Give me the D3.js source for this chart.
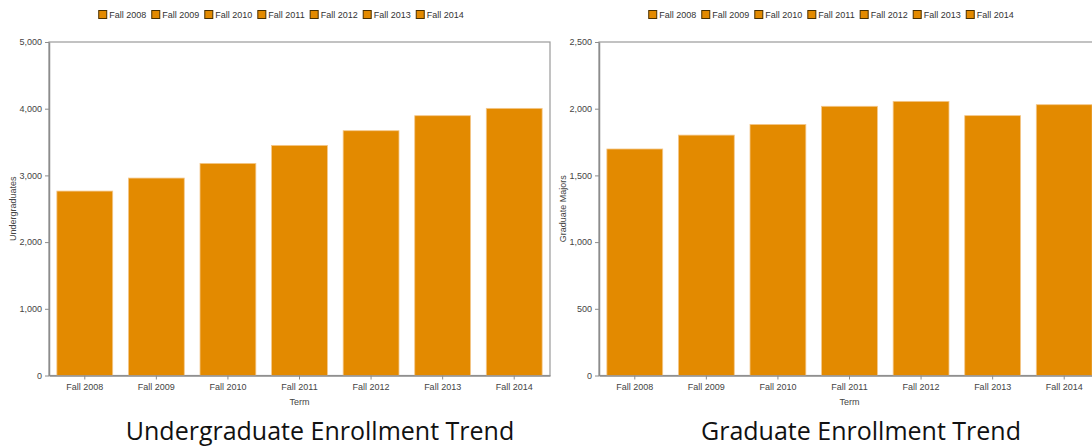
<!DOCTYPE html>
<html>
<head>
<meta charset="utf-8">
<script src="https://cdn.jsdelivr.net/npm/d3@7"></script>
<style>
  body { margin: 0; background: #fff; }
  svg { display: block; }
  .axis text { font-family: 'Liberation Sans', Arial, sans-serif; font-size: 9px; fill: #444; }
  .axis path, .axis line { stroke: #8c8c8c; }
</style>
</head>
<body>
<div id="chart"></div>
<script>
const terms = ['Fall 2008', 'Fall 2009', 'Fall 2010', 'Fall 2011', 'Fall 2012', 'Fall 2013', 'Fall 2014'];
const undergrads = [2765, 2960, 3180, 3450, 3670, 3895, 4005];
const gradMajors = [1698, 1802, 1882, 2018, 2055, 1948, 2030];
const undergradTicks = [0, 1000, 2000, 3000, 4000, 5000];
const gradTicks = [0, 500, 1000, 1500, 2000, 2500];

const svgWidth = 1092,
      svgHeight = 446;

const barColor = '#e38a00';

const svg = d3.select('#chart')
              .append('svg')
              .attr('width', svgWidth)
              .attr('height', svgHeight);

function drawPanel(left, values, ticks, yLabel, title, titleX) {
  const top = 42,
        width = 501,
        height = 333.5;

  const g = svg.append('g')
               .attr('transform', `translate(${left},${top})`);

  const x = d3.scaleBand()
              .domain(terms)
              .range([0, width])
              .paddingInner(0.22)
              .paddingOuter(0.11);

  const y = d3.scaleLinear()
              .domain([0, d3.max(ticks)])
              .range([height, 0]);

  // frame
  g.append('rect')
   .attr('width', width)
   .attr('height', height)
   .attr('fill', 'none')
   .attr('stroke', '#9a9a9a')
   .attr('stroke-width', 1.2);

  // bars
  g.append('g')
   .selectAll('rect')
   .data(values)
   .enter()
   .append('rect')
   .attr('x', (d, i) => x(terms[i]))
   .attr('y', d => y(d))
   .attr('width', x.bandwidth())
   .attr('height', d => height - y(d))
   .attr('fill', barColor)
   .attr('stroke', '#f4c78a')
   .attr('stroke-width', 0.8);

  const yAxis = d3.axisLeft(y)
                  .tickValues(ticks)
                  .tickFormat(d3.format(','))
                  .tickSize(4)
                  .tickSizeOuter(0);
  g.append('g')
   .attr('class', 'axis')
   .call(yAxis)
   .call(a => a.select('.domain').attr('stroke-width', 1.5));

  const xAxis = d3.axisBottom(x)
                  .tickSize(4)
                  .tickSizeOuter(0)
                  .tickPadding(4);
  g.append('g')
   .attr('class', 'axis')
   .attr('transform', `translate(0,${height})`)
   .call(xAxis)
   .call(a => a.select('.domain').attr('stroke-width', 1.5));

  // axis titles
  g.append('text')
   .attr('x', width / 2)
   .attr('y', height + 29)
   .attr('text-anchor', 'middle')
   .attr('font-family', 'Liberation Sans, Arial, sans-serif')
   .attr('font-size', 9)
   .attr('fill', '#444')
   .text('Term');

  g.append('text')
   .attr('transform', `translate(-33,${height / 2}) rotate(-90)`)
   .attr('text-anchor', 'middle')
   .attr('font-family', 'Liberation Sans, Arial, sans-serif')
   .attr('font-size', 9)
   .attr('fill', '#444')
   .text(yLabel);

  // legend
  const legend = svg.append('g').attr('transform', 'translate(0,15)');
  const items = [];
  terms.forEach(t => {
    const item = legend.append('g');
    item.append('rect')
        .attr('x', 0.5)
        .attr('y', -4.5)
        .attr('width', 8)
        .attr('height', 8)
        .attr('fill', barColor)
        .attr('stroke', '#4a3000')
        .attr('stroke-width', 1);
    const txt = item.append('text')
                    .attr('x', 11)
                    .attr('y', 3.2)
                    .attr('font-family', 'Liberation Sans, Arial, sans-serif')
                    .attr('font-size', 9)
                    .attr('fill', '#333')
                    .text(t);
    items.push({ item, w: 11 + txt.node().getComputedTextLength() + 5 });
  });
  const total = d3.sum(items, d => d.w) - 5;
  let cx = left + 232 - total / 2;
  items.forEach(d => {
    d.item.attr('transform', `translate(${cx},0)`);
    cx += d.w;
  });

  // big title below
  svg.append('text')
     .attr('x', titleX)
     .attr('y', 440)
     .attr('text-anchor', 'middle')
     .attr('font-family', 'Open Sans, sans-serif')
     .attr('font-size', 25)
     .attr('fill', '#111')
     .text(title);
}

drawPanel(49, undergrads, undergradTicks, 'Undergraduates', 'Undergraduate Enrollment Trend', 320);
drawPanel(599, gradMajors, gradTicks, 'Graduate Majors', 'Graduate Enrollment Trend', 861);
</script>
</body>
</html>
